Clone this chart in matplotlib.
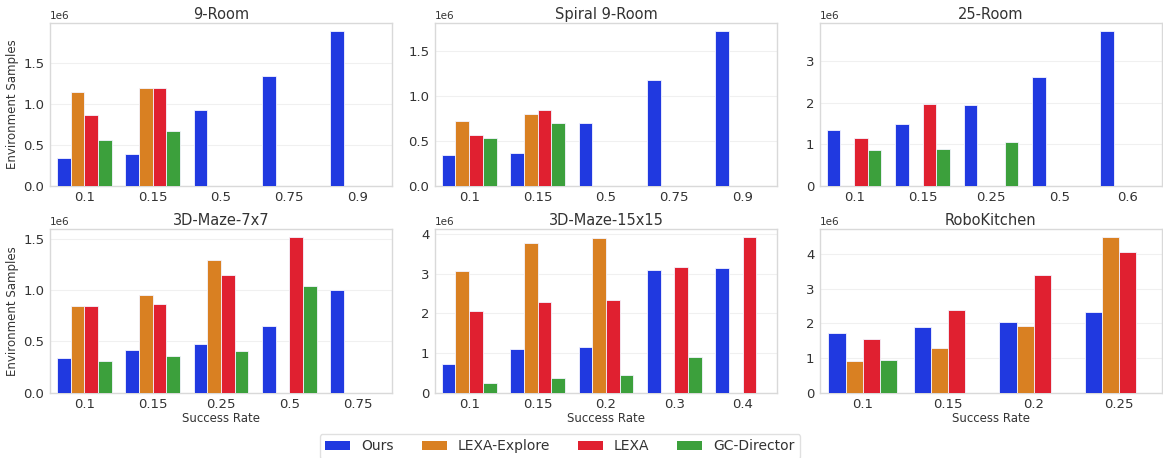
import numpy as np
import matplotlib.pyplot as plt
from matplotlib.patches import Patch

methods = ["Ours", "LEXA-Explore", "LEXA", "GC-Director"]
colors = ["#2039e0", "#d98022", "#e02030", "#3ca03c"]
nan = np.nan

# success-rate labels and values per method (units of 1e6 samples)
room9_x = ["0.1", "0.15", "0.5", "0.75", "0.9"]
room9 = [[0.34, 0.39, 0.93, 1.35, 1.90],
         [1.15, 1.20, nan, nan, nan],
         [0.87, 1.20, nan, nan, nan],
         [0.56, 0.67, nan, nan, nan]]

spiral_x = ["0.1", "0.15", "0.5", "0.75", "0.9"]
spiral = [[0.35, 0.37, 0.70, 1.18, 1.73],
          [0.72, 0.80, nan, nan, nan],
          [0.57, 0.85, nan, nan, nan],
          [0.53, 0.70, nan, nan, nan]]

room25_x = ["0.1", "0.15", "0.25", "0.5", "0.6"]
room25 = [[1.34, 1.49, 1.94, 2.62, 3.73],
          [nan, nan, nan, nan, nan],
          [1.14, 1.97, nan, nan, nan],
          [0.86, 0.88, 1.05, nan, nan]]

maze7_x = ["0.1", "0.15", "0.25", "0.5", "0.75"]
maze7 = [[0.34, 0.42, 0.47, 0.65, 1.00],
         [0.85, 0.95, 1.30, nan, nan],
         [0.85, 0.87, 1.15, 1.52, nan],
         [0.31, 0.36, 0.41, 1.04, nan]]

maze15_x = ["0.1", "0.15", "0.2", "0.3", "0.4"]
maze15 = [[0.73, 1.11, 1.16, 3.10, 3.14],
          [3.07, 3.78, 3.92, nan, nan],
          [2.06, 2.28, 2.34, 3.17, 3.93],
          [0.24, 0.37, 0.44, 0.91, nan]]

kitchen_x = ["0.1", "0.15", "0.2", "0.25"]
kitchen = [[1.73, 1.88, 2.04, 2.33],
           [0.92, 1.29, 1.93, 4.48],
           [1.53, 2.39, 3.38, 4.05],
           [0.94, nan, nan, nan]]

panels = [("9-Room", room9_x, room9),
          ("Spiral 9-Room", spiral_x, spiral),
          ("25-Room", room25_x, room25),
          ("3D-Maze-7x7", maze7_x, maze7),
          ("3D-Maze-15x15", maze15_x, maze15),
          ("RoboKitchen", kitchen_x, kitchen)]

plt.rcParams["text.color"] = "#333333"
plt.rcParams["axes.labelcolor"] = "#333333"
plt.rcParams["xtick.color"] = "#333333"
plt.rcParams["ytick.color"] = "#333333"

fig, axes = plt.subplots(2, 3, figsize=(11.63, 4.58), dpi=100)
fig.subplots_adjust(left=0.043, right=0.999, top=0.950, bottom=0.143,
                    wspace=0.126, hspace=0.267)

width = 0.8 / len(methods)
for i, (ax, (title, labels, vals)) in enumerate(zip(axes.flat, panels)):
    x = np.arange(len(labels))
    for k, (m, c) in enumerate(zip(methods, colors)):
        v = np.array(vals[k], dtype=float) * 1e6
        ax.bar(x - 0.4 + width * (k + 0.5), v, width, color=c,
               edgecolor="#f4f4ff", linewidth=0.6, zorder=3)
    ax.set_xticks(x)
    ax.set_xticklabels(labels)
    ax.set_xlim(-0.5, len(labels) - 0.5)
    ax.set_title(title, fontsize=10.5, pad=3)
    ax.tick_params(axis="both", labelsize=9.5, length=0, pad=4)
    ax.grid(axis="y", color="#f0f0f0", linewidth=0.8, zorder=0)
    ax.set_axisbelow(True)
    for s in ax.spines.values():
        s.set_color("#d9d9d9")
        s.set_linewidth(1.0)
    ax.yaxis.get_offset_text().set_fontsize(7.5)
    if i % 3 == 0:
        ax.set_ylabel("Environment Samples", fontsize=8.5, labelpad=3)
    if i >= 3:
        ax.set_xlabel("Success Rate", fontsize=8.5, labelpad=1)

handles = [Patch(facecolor=c, label=m) for m, c in zip(methods, colors)]
leg = fig.legend(handles=handles, loc="upper center",
                 bbox_to_anchor=(0.4815, 0.053), borderaxespad=0, ncol=4,
                 fontsize=10, frameon=True, handlelength=1.8,
                 handleheight=0.6)
leg.get_frame().set_edgecolor("#d9d9d9")

fig.savefig("out.png", dpi=100)
